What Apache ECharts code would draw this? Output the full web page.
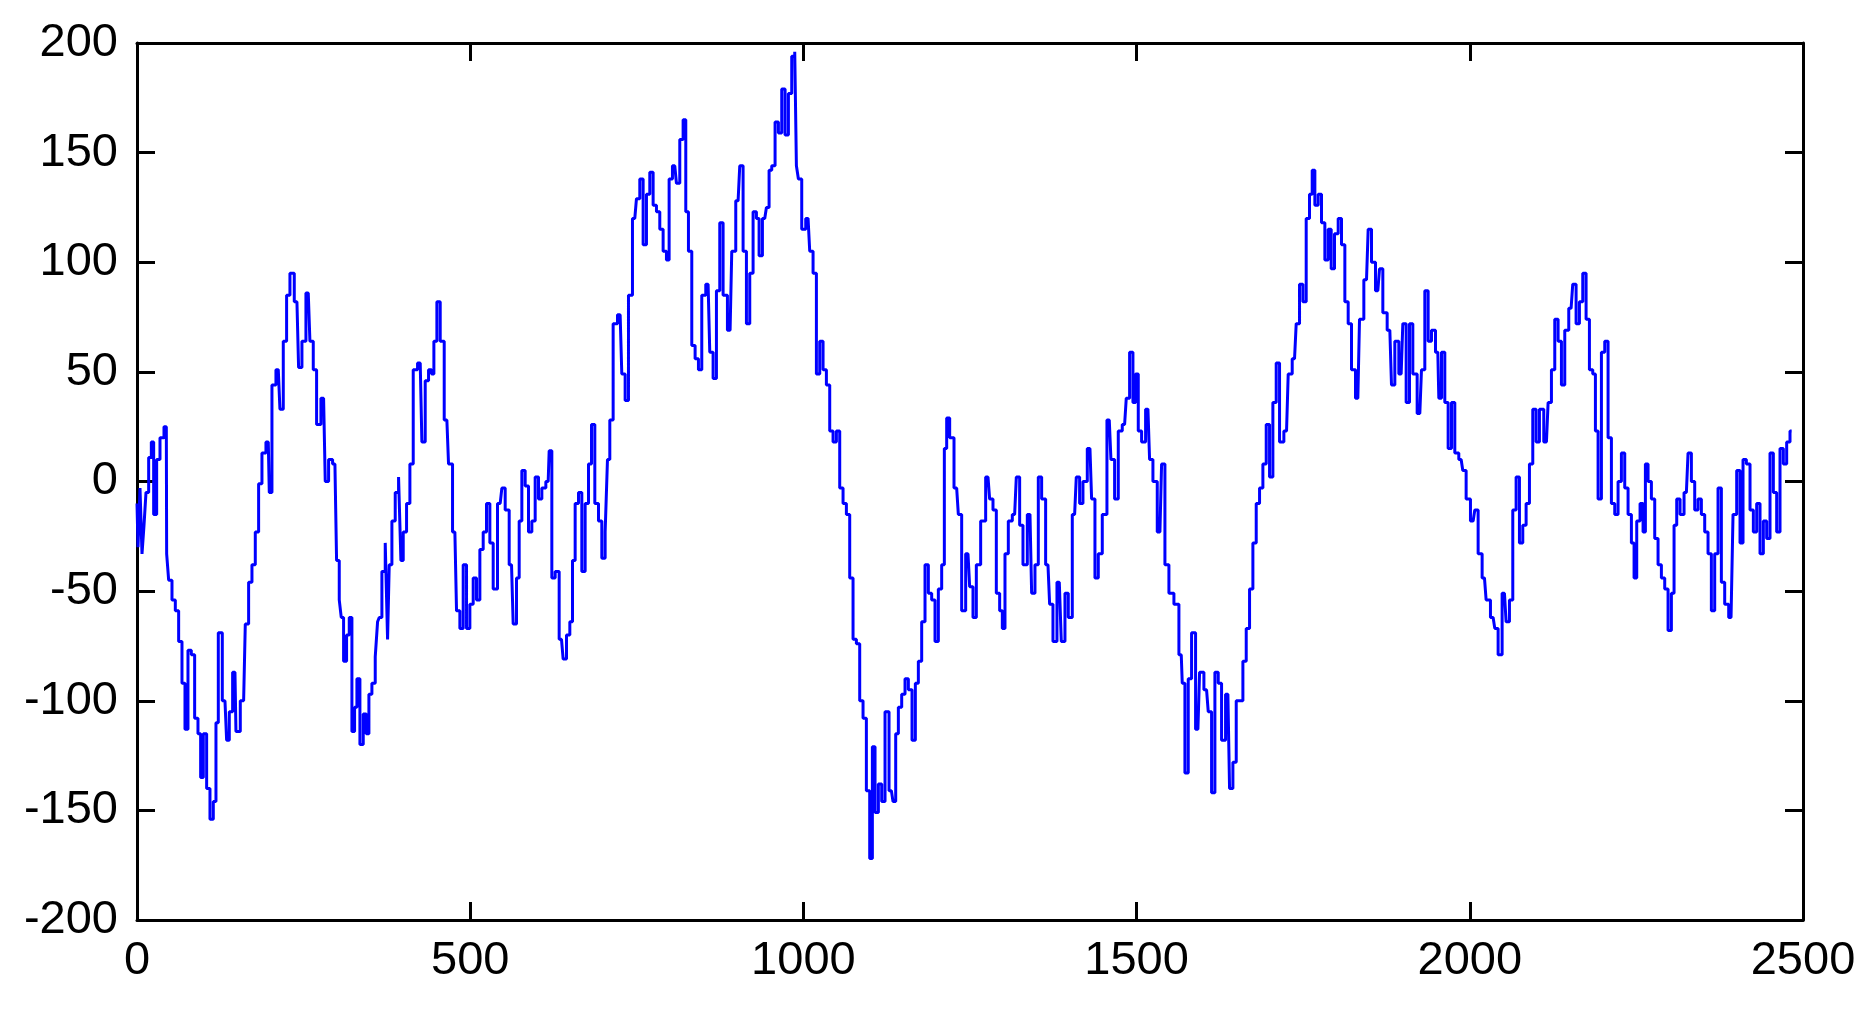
<!DOCTYPE html>
<html>
<head>
<meta charset="utf-8">
<script src="https://cdn.jsdelivr.net/npm/echarts@6/dist/echarts.min.js"></script>
<style>
html,body{margin:0;padding:0;background:#fff;}
#chart{width:1867px;height:1014px;}
</style>
</head>
<body>
<div id="chart"></div>
<script>
// sample positions (x) and values (y)
const xValues = [
0,3,6,9,12,15,20,23,27,32,37,44,45,50,55,60,65,70,74,79,84,89,94,97,102,107,112,117,120,124,132,137,140,147,150,160,165,170,175,180,185,190,197,200,205,212,217,222,227,232,240,245,250,257,262,267,272,280,285,290,297,302,
305,308,312,317,320,325,328,332,337,342,346,350,355,360,362,365,370,375,377,380,385,390,395,397,402,407,412,417,425,430,435,440,444,447,453,457,465,470,477,482,487,492,497,502,507,512,517,522,527,532,537,545,550,555,562,567,572,575,580,585,590,595,600,605,610,617,620,
625,630,637,642,647,652,655,660,665,670,675,680,684,690,695,700,705,707,712,717,725,730,735,740,747,752,757,762,767,772,777,782,787,792,797,800,807,812,817,822,825,830,835,840,845,850,857,862,867,872,877,882,890,895,902,907,912,917,922,927,932,
935,942,947,950,955,960,965,970,975,980,985,989,990,995,1000,1007,1012,1017,1022,1027,1032,1037,1042,1047,1052,1057,1062,1067,1072,1077,1082,1087,1092,1097,1102,1105,1110,1115,1120,1125,1132,1137,1140,1145,1150,1155,1160,1166,1170,1175,1180,1185,1190,1195,1200,1205,1210,1213,1217,1222,1230,1235,1240,1247,
1252,1257,1262,1270,1277,1282,1287,1292,1297,1300,1305,1310,1317,1322,1327,1332,1340,1345,1350,1355,1360,1367,1372,1377,1384,1390,1395,1400,1407,1412,1417,1422,1430,1435,1440,1445,1452,1459,1464,1470,1475,1482,1487,1492,1497,1500,1505,1510,1517,1522,1527,1535,1540,1545,1552,1560,1567,
1570,1575,1580,1585,1592,1597,1605,1610,1615,1620,1625,1630,1637,1642,1647,1652,1657,1662,1667,1672,1677,1682,1687,1692,1697,1702,1707,1712,1717,1725,1730,1737,1742,1747,1752,1757,1762,1765,1770,1775,1780,1785,1790,1794,1800,1805,1810,1815,1820,1825,1832,1837,1845,1850,1855,1862,1867,1872,1880,
1885,1890,1897,1902,1907,1912,1917,1925,1930,1935,1940,1945,1952,1955,1960,1965,1970,1975,1980,1987,1992,1997,2005,2010,2015,2022,2027,2035,2040,2045,2052,2057,2062,2067,2072,2077,2082,2087,2092,2097,2102,2107,2115,2120,2125,2130,2135,2140,2145,2152,2157,2162,2167,2172,2177,2182,2187,2190,2195,
2200,2205,2210,2215,2220,2225,2230,2235,2240,2245,2248,2253,2258,2262,2265,2270,2275,2280,2285,2290,2295,2300,2305,2308,2313,2318,2325,2330,2335,2340,2345,2350,2355,2360,2365,2370,2375,2380,2385,2392,2398,2403,2408,2412,2418,2423,2428,2433,2438,2443,2448,2453,2458,2463,2468,2473,2478,2483
];
const yValues = [
-10,-30,-3,-33,-20,-5,11,18,-15,10,20,25,-33,-45,-54,-59,-73,-92,-113,-77,-79,-108,-115,-135,-115,-140,-154,-146,-110,-69,-100,-118,-105,-87,-114,-100,-65,-46,-38,-23,-1,13,18,-5,44,51,33,64,85,95,82,52,64,86,64,51,26,38,0,10,8,-36,
-54,-62,-82,-70,-62,-114,-103,-90,-120,-106,-115,-97,-92,-80,-64,-62,-41,-28,-72,-38,-18,-5,2,-36,-23,-10,8,51,54,18,46,51,49,64,82,64,28,8,-23,-59,-67,-38,-67,-56,-44,-54,-31,-23,-10,-28,-49,-10,-3,-13,-38,-65,-44,-18,5,-2,-23,-18,2,-8,-3,0,14,
-44,-41,-72,-81,-70,-64,-36,-10,-5,-41,-10,8,26,-10,-18,-35,-23,10,28,72,76,49,37,85,120,129,138,108,131,141,126,123,115,105,101,138,144,136,156,165,123,105,62,56,51,85,90,59,47,87,118,85,69,105,128,144,105,72,95,123,120,
103,120,125,142,144,164,159,179,158,177,194,196,144,138,115,120,105,95,49,64,51,44,23,18,23,-3,-10,-15,-44,-72,-74,-100,-108,-141,-172,-121,-151,-138,-146,-105,-141,-146,-115,-103,-97,-90,-95,-118,-92,-82,-64,-38,-51,-54,-73,-49,-38,15,29,20,-3,-15,-59,-33,
-48,-62,-38,-18,2,-8,-13,-51,-59,-67,-33,-18,-15,2,-20,-38,-15,-51,-38,2,-8,-38,-56,-73,-46,-73,-51,-62,-15,2,-10,0,15,-8,-44,-33,-15,28,10,-8,23,26,38,59,36,49,23,18,33,10,0,-23,8,-38,-51,-56,-79,
-92,-133,-90,-69,-113,-87,-95,-105,-142,-87,-92,-118,-97,-140,-128,-100,-100,-82,-67,-49,-28,-10,-3,8,26,2,36,54,18,23,49,56,72,90,82,120,131,142,126,131,118,101,115,97,113,120,108,82,72,51,38,74,92,115,100,87,97,77,69,
44,64,49,72,36,72,49,31,51,87,64,69,59,38,59,36,15,36,13,10,5,-8,-18,-13,-33,-44,-54,-62,-67,-79,-51,-64,-54,-13,2,-28,-20,-10,8,33,18,33,18,36,51,74,64,44,69,79,90,72,82,95,74,51,49,23,-8,
59,64,20,-10,-15,0,13,-3,-15,-28,-44,-18,-10,-23,8,0,-8,-26,-38,-44,-49,-68,-51,-20,-8,-15,-5,13,0,-13,-8,-15,-23,-33,-59,-33,-3,-46,-56,-62,-15,5,-28,10,8,-13,-23,-10,-33,-18,-26,13,-5,-23,15,8,18,23
];
const xTicks = [0, 500, 1000, 1500, 2000, 2500];
const yTicks = [-200, -150, -100, -50, 0, 50, 100, 150, 200];

const seriesData = xValues.map((x, i) => [x, yValues[i]]);

const chart = echarts.init(document.getElementById('chart'), null, {renderer: 'canvas'});
const axisLineStyle = {color: '#000', width: 3};
const tickStyle = {show: true, inside: true, length: 18, lineStyle: {color: '#000', width: 3}};
const labelStyle = {color: '#000', fontSize: 47, fontFamily: 'Liberation Sans, Arial, sans-serif', formatter: v => String(v)};
chart.setOption({
  animation: false,
  backgroundColor: '#ffffff',
  grid: {left: 137, right: 64, top: 43, bottom: 94, containLabel: false},
  xAxis: [
    {type: 'value', position: 'bottom', min: xTicks[0], max: xTicks[xTicks.length-1], interval: 500,
     axisLine: {show: true, onZero: false, lineStyle: axisLineStyle}, axisTick: tickStyle,
     axisLabel: Object.assign({margin: 18}, labelStyle), splitLine: {show: false}},
    {type: 'value', position: 'top', min: xTicks[0], max: xTicks[xTicks.length-1], interval: 500,
     axisLine: {show: true, onZero: false, lineStyle: axisLineStyle}, axisTick: tickStyle,
     axisLabel: {show: false}, splitLine: {show: false}}
  ],
  yAxis: [
    {type: 'value', position: 'left', min: yTicks[0], max: yTicks[yTicks.length-1], interval: 50,
     axisLine: {show: true, onZero: false, lineStyle: axisLineStyle}, axisTick: tickStyle,
     axisLabel: Object.assign({margin: 19}, labelStyle), splitLine: {show: false}},
    {type: 'value', position: 'right', min: yTicks[0], max: yTicks[yTicks.length-1], interval: 50,
     axisLine: {show: true, onZero: false, lineStyle: axisLineStyle}, axisTick: tickStyle,
     axisLabel: {show: false}, splitLine: {show: false}}
  ],
  series: [{
    type: 'line',
    xAxisIndex: 0, yAxisIndex: 0,
    data: seriesData,
    showSymbol: false,
    symbol: 'none',
    step: 'middle',
    lineStyle: {color: '#0000ff', width: 3},
    clip: true
  }]
});
</script>
</body>
</html>
